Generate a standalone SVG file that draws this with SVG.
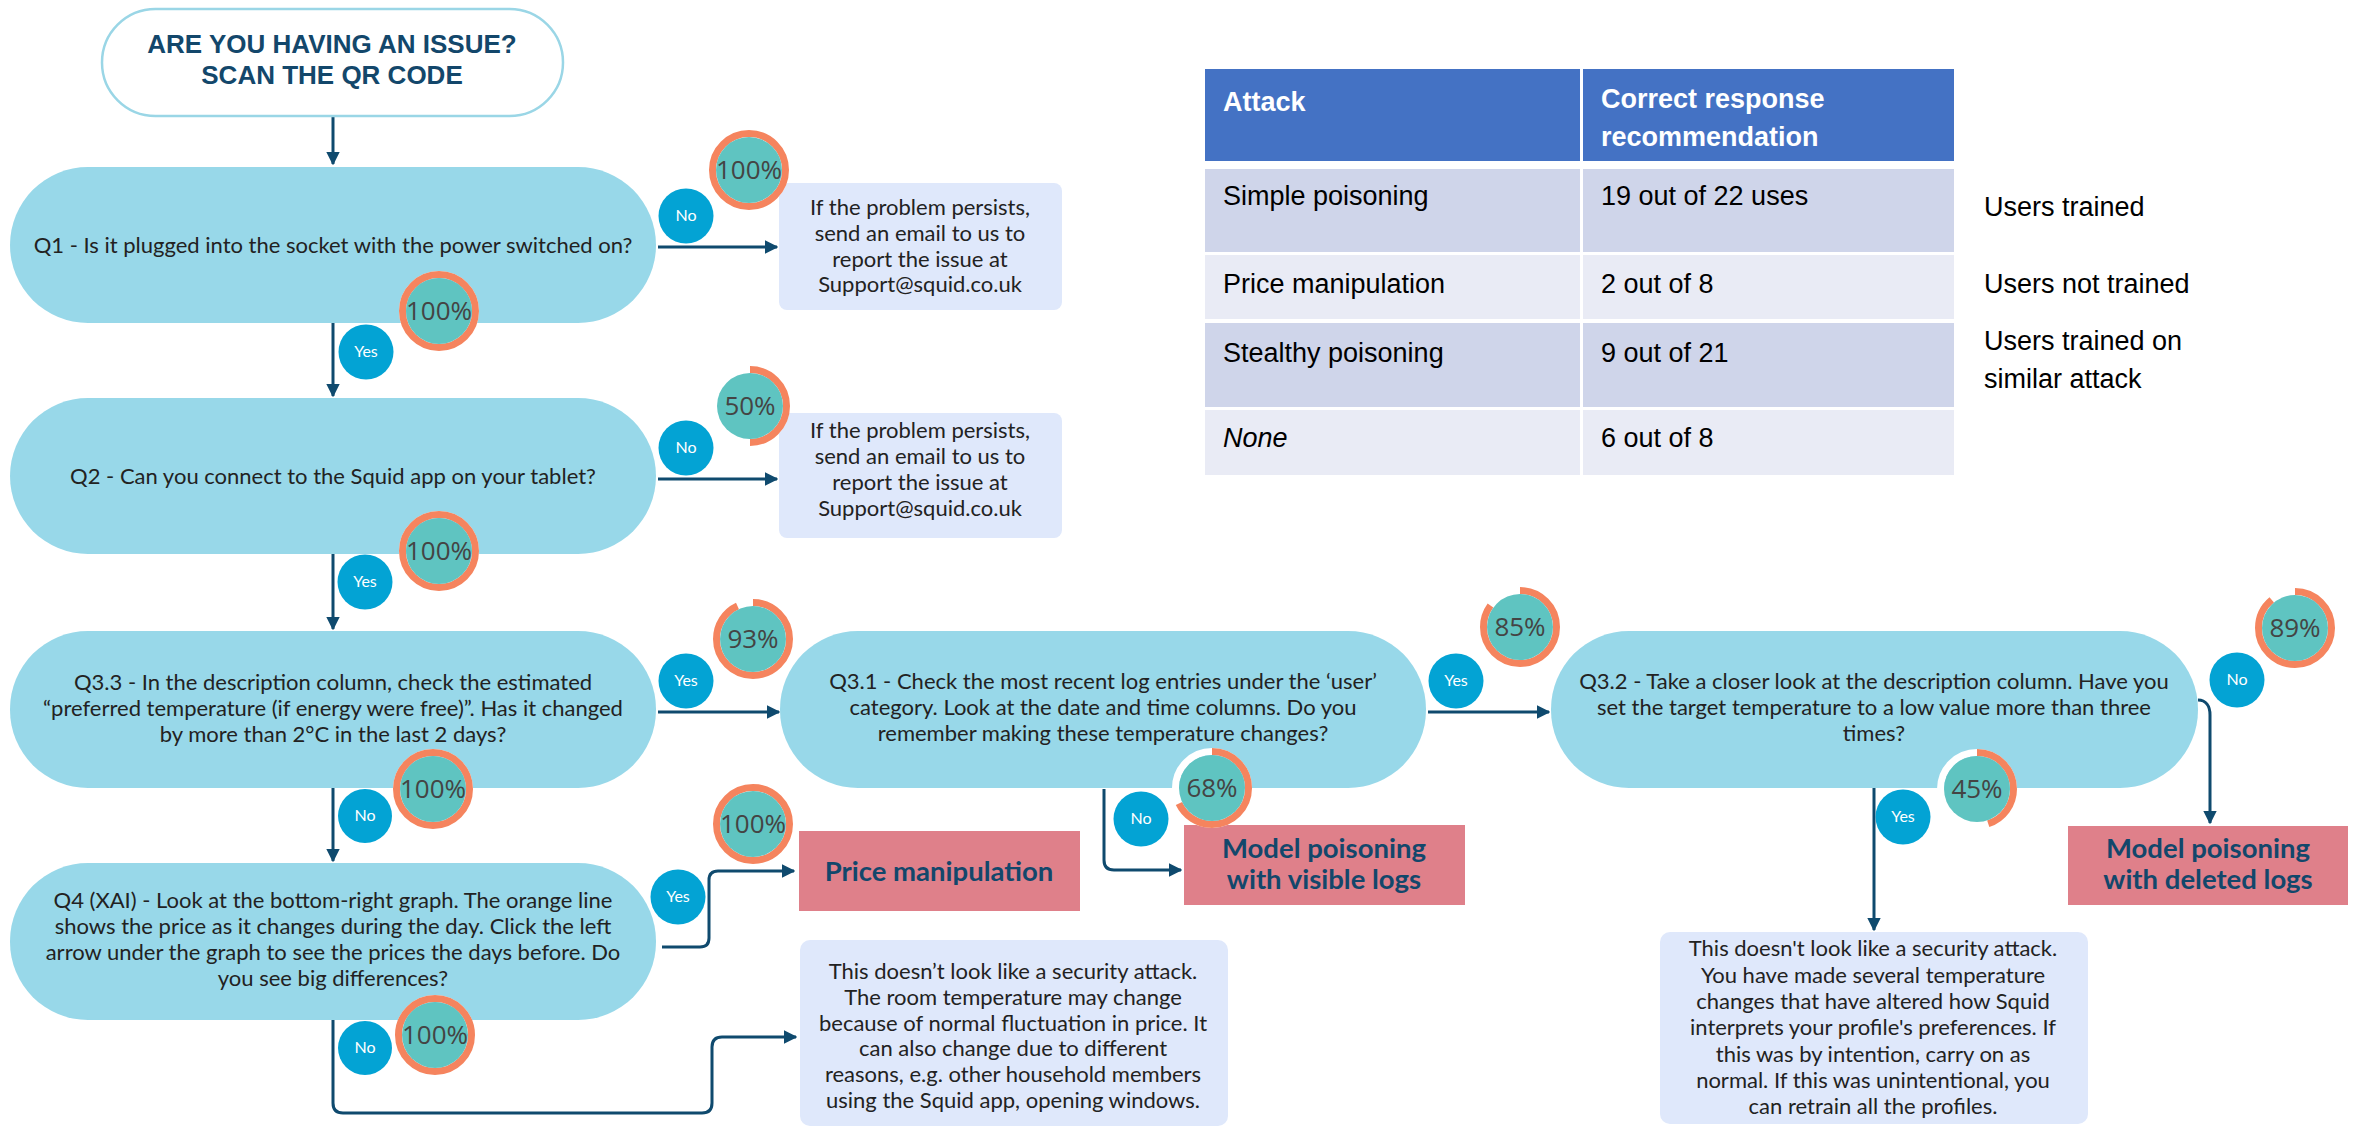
<svg xmlns="http://www.w3.org/2000/svg" width="2356" height="1129" viewBox="0 0 2356 1129">
<defs>
<marker id="ah" viewBox="0 0 10 10" refX="9" refY="5" markerWidth="4.6" markerHeight="4.6" orient="auto" markerUnits="strokeWidth">
<path d="M0,0 L10,5 L0,10 z" fill="#0f4a6e"/>
</marker>
<style>
.pill{fill:#98d8e9}
.qt{font-family:Lato,"Noto Sans",sans-serif;font-size:22px;fill:#222;text-anchor:middle}
.info{fill:#dfe8fb}
.it{font-family:Lato,"Noto Sans",sans-serif;font-size:22px;fill:#222;text-anchor:middle}
.res{fill:#df808a}
.rt{font-family:Lato,"Noto Sans",sans-serif;font-size:27.5px;font-weight:bold;fill:#13476b;text-anchor:middle}
.yn{fill:#03a3d4}
.ynt{font-family:Lato,"Noto Sans",sans-serif;font-size:16px;fill:#fff;text-anchor:middle}
.pbg{fill:none;stroke:#fff;stroke-width:7}
.parc{fill:none;stroke:#f5845e;stroke-width:7}
.pin{fill:#5fc4c1}
.pt{font-family:"Open Sans","Noto Sans",sans-serif;font-size:26px;fill:#444;text-anchor:middle}
.conn{fill:none;stroke:#0f4a6e;stroke-width:3}
.th{font-family:"Liberation Sans",Arial,sans-serif;font-size:27px;font-weight:bold;fill:#fff}
.td{font-family:"Liberation Sans",Arial,sans-serif;font-size:27px;fill:#000}
.st{font-family:"Liberation Sans",Arial,sans-serif;font-size:26px;font-weight:bold;fill:#13476b;text-anchor:middle}
</style>
</defs>
<rect width="2356" height="1129" fill="#fff"/>

<g id="connectors">
<path class="conn" d="M333,116 V164" marker-end="url(#ah)"/>
<path class="conn" d="M333,323 V396" marker-end="url(#ah)"/>
<path class="conn" d="M333,554 V629" marker-end="url(#ah)"/>
<path class="conn" d="M333,788 V861" marker-end="url(#ah)"/>
<path class="conn" d="M658,247 H777" marker-end="url(#ah)"/>
<path class="conn" d="M658,479 H777" marker-end="url(#ah)"/>
<path class="conn" d="M658,712 H779" marker-end="url(#ah)"/>
<path class="conn" d="M1428,712 H1549" marker-end="url(#ah)"/>
<path class="conn" d="M662,947 H700 Q709,947 709,938 V880 Q709,871 718,871 H794" marker-end="url(#ah)"/>
<path class="conn" d="M333,1020 V1103 Q333,1113 343,1113 H702 Q712,1113 712,1103 V1047 Q712,1037 722,1037 H796" marker-end="url(#ah)"/>
<path class="conn" d="M1104,789 V860 Q1104,870 1114,870 H1181" marker-end="url(#ah)"/>
<path class="conn" d="M1874,788 V930" marker-end="url(#ah)"/>
<path class="conn" d="M2198,700 C2206,700 2210,706 2210,715 V823" marker-end="url(#ah)"/>
</g>

<g id="start">
<rect x="102" y="9" width="461" height="107" rx="53.5" fill="#fff" stroke="#9ad6e6" stroke-width="2.5"/>
<text class="st" x="332" y="53">ARE YOU HAVING AN ISSUE?</text>
<text class="st" x="332" y="84">SCAN THE QR CODE</text>
</g>

<g id="q1">
<rect class="pill" x="10" y="167" width="646" height="156" rx="78"/>
<text class="qt" x="333" y="253">Q1 - Is it plugged into the socket with the power switched on?</text>
</g>
<g id="q2">
<rect class="pill" x="10" y="398" width="646" height="156" rx="78"/>
<text class="qt" x="333" y="484">Q2 - Can you connect to the Squid app on your tablet?</text>
</g>
<g id="q33">
<rect class="pill" x="10" y="631" width="646" height="157" rx="78"/>
<text class="qt" x="333" y="690">Q3.3 - In the description column, check the estimated</text>
<text class="qt" x="333" y="716">“preferred temperature (if energy were free)”. Has it changed</text>
<text class="qt" x="333" y="742">by more than 2°C in the last 2 days?</text>
</g>
<g id="q4">
<rect class="pill" x="10" y="863" width="646" height="157" rx="78"/>
<text class="qt" x="333" y="908">Q4 (XAI) - Look at the bottom-right graph. The orange line</text>
<text class="qt" x="333" y="934">shows the price as it changes during the day. Click the left</text>
<text class="qt" x="333" y="960">arrow under the graph to see the prices the days before. Do</text>
<text class="qt" x="333" y="986">you see big differences?</text>
</g>
<g id="q31">
<rect class="pill" x="780" y="631" width="646" height="157" rx="78"/>
<text class="qt" x="1103" y="689">Q3.1 - Check the most recent log entries under the ‘user’</text>
<text class="qt" x="1103" y="715">category. Look at the date and time columns. Do you</text>
<text class="qt" x="1103" y="741">remember making these temperature changes?</text>
</g>
<g id="q32">
<rect class="pill" x="1551" y="631" width="647" height="157" rx="78"/>
<text class="qt" x="1874" y="689">Q3.2 - Take a closer look at the description column. Have you</text>
<text class="qt" x="1874" y="715">set the target temperature to a low value more than three</text>
<text class="qt" x="1874" y="741">times?</text>
</g>

<g id="info1">
<rect class="info" x="779" y="183" width="283" height="127" rx="8"/>
<text class="it" x="920" y="215">If the problem persists,</text>
<text class="it" x="920" y="241">send an email to us to</text>
<text class="it" x="920" y="267">report the issue at</text>
<text class="it" x="920" y="292">Support@squid.co.uk</text>
</g>
<g id="info2">
<rect class="info" x="779" y="413" width="283" height="125" rx="8"/>
<text class="it" x="920" y="438">If the problem persists,</text>
<text class="it" x="920" y="464">send an email to us to</text>
<text class="it" x="920" y="490">report the issue at</text>
<text class="it" x="920" y="516">Support@squid.co.uk</text>
</g>
<g id="info3">
<rect class="info" x="800" y="940" width="428" height="186" rx="10"/>
<text class="it" x="1013" y="979">This doesn’t look like a security attack.</text>
<text class="it" x="1013" y="1005">The room temperature may change</text>
<text class="it" x="1013" y="1031">because of normal fluctuation in price. It</text>
<text class="it" x="1013" y="1056">can also change due to different</text>
<text class="it" x="1013" y="1082">reasons, e.g. other household members</text>
<text class="it" x="1013" y="1108">using the Squid app, opening windows.</text>
</g>
<g id="info4">
<rect class="info" x="1660" y="932" width="428" height="192" rx="10"/>
<text class="it" x="1873" y="956">This doesn't look like a security attack.</text>
<text class="it" x="1873" y="983">You have made several temperature</text>
<text class="it" x="1873" y="1009">changes that have altered how Squid</text>
<text class="it" x="1873" y="1035">interprets your profile's preferences. If</text>
<text class="it" x="1873" y="1062">this was by intention, carry on as</text>
<text class="it" x="1873" y="1088">normal. If this was unintentional, you</text>
<text class="it" x="1873" y="1114">can retrain all the profiles.</text>
</g>

<g id="res-price">
<rect class="res" x="799" y="831" width="281" height="80"/>
<text class="rt" x="939" y="881">Price manipulation</text>
</g>
<g id="res-visible">
<rect class="res" x="1184" y="825" width="281" height="80"/>
<text class="rt" x="1324" y="858">Model poisoning</text>
<text class="rt" x="1324" y="889">with visible logs</text>
</g>
<g id="res-deleted">
<rect class="res" x="2068" y="826" width="280" height="79"/>
<text class="rt" x="2208" y="858">Model poisoning</text>
<text class="rt" x="2208" y="889">with deleted logs</text>
</g>

<g id="yn-badges">
<g id="no-q1"><circle class="yn" cx="686" cy="216" r="27.5"/><text class="ynt" x="686" y="221">No</text></g>
<g id="yes-q1"><circle class="yn" cx="366" cy="352" r="27.5"/><text class="ynt" x="366" y="357">Yes</text></g>
<g id="no-q2"><circle class="yn" cx="686" cy="448" r="27.5"/><text class="ynt" x="686" y="453">No</text></g>
<g id="yes-q2"><circle class="yn" cx="365" cy="582" r="27.5"/><text class="ynt" x="365" y="587">Yes</text></g>
<g id="yes-q33"><circle class="yn" cx="686" cy="681" r="27.5"/><text class="ynt" x="686" y="686">Yes</text></g>
<g id="no-q33"><circle class="yn" cx="365" cy="816" r="27"/><text class="ynt" x="365" y="821">No</text></g>
<g id="yes-q4"><circle class="yn" cx="678" cy="897" r="27.5"/><text class="ynt" x="678" y="902">Yes</text></g>
<g id="no-q4"><circle class="yn" cx="365" cy="1048" r="27"/><text class="ynt" x="365" y="1053">No</text></g>
<g id="yes-q31"><circle class="yn" cx="1456" cy="681" r="27.5"/><text class="ynt" x="1456" y="686">Yes</text></g>
<g id="no-q31"><circle class="yn" cx="1141" cy="819" r="27.5"/><text class="ynt" x="1141" y="824">No</text></g>
<g id="yes-q32"><circle class="yn" cx="1903" cy="817" r="27.5"/><text class="ynt" x="1903" y="822">Yes</text></g>
<g id="no-q32"><circle class="yn" cx="2237" cy="680" r="27.5"/><text class="ynt" x="2237" y="685">No</text></g>
</g>

<g id="pct-badges">
<g id="pct-q1-no"><circle class="pbg" cx="749" cy="170" r="36.5"/><circle class="parc" cx="749" cy="170" r="36.5" pathLength="100" stroke-dasharray="100 100" transform="rotate(-90 749 170)"/><circle class="pin" cx="749" cy="170" r="33"/><text class="pt" x="749" y="179">100%</text></g>
<g id="pct-q1-yes"><circle class="pbg" cx="439" cy="311" r="36.5"/><circle class="parc" cx="439" cy="311" r="36.5" pathLength="100" stroke-dasharray="100 100" transform="rotate(-90 439 311)"/><circle class="pin" cx="439" cy="311" r="33"/><text class="pt" x="439" y="320">100%</text></g>
<g id="pct-q2-no"><circle class="pbg" cx="750" cy="406" r="36.5"/><circle class="parc" cx="750" cy="406" r="36.5" pathLength="100" stroke-dasharray="50 100" transform="rotate(-90 750 406)"/><circle class="pin" cx="750" cy="406" r="33"/><text class="pt" x="750" y="415">50%</text></g>
<g id="pct-q2-yes"><circle class="pbg" cx="439" cy="551" r="36.5"/><circle class="parc" cx="439" cy="551" r="36.5" pathLength="100" stroke-dasharray="100 100" transform="rotate(-90 439 551)"/><circle class="pin" cx="439" cy="551" r="33"/><text class="pt" x="439" y="560">100%</text></g>
<g id="pct-q33-yes"><circle class="pbg" cx="753" cy="639" r="36.5"/><circle class="parc" cx="753" cy="639" r="36.5" pathLength="100" stroke-dasharray="93 100" transform="rotate(-90 753 639)"/><circle class="pin" cx="753" cy="639" r="33"/><text class="pt" x="753" y="648">93%</text></g>
<g id="pct-q33-no"><circle class="pbg" cx="433" cy="789" r="36.5"/><circle class="parc" cx="433" cy="789" r="36.5" pathLength="100" stroke-dasharray="100 100" transform="rotate(-90 433 789)"/><circle class="pin" cx="433" cy="789" r="33"/><text class="pt" x="433" y="798">100%</text></g>
<g id="pct-q4-yes"><circle class="pbg" cx="753" cy="824" r="36.5"/><circle class="parc" cx="753" cy="824" r="36.5" pathLength="100" stroke-dasharray="100 100" transform="rotate(-90 753 824)"/><circle class="pin" cx="753" cy="824" r="33"/><text class="pt" x="753" y="833">100%</text></g>
<g id="pct-q4-no"><circle class="pbg" cx="435" cy="1035" r="36.5"/><circle class="parc" cx="435" cy="1035" r="36.5" pathLength="100" stroke-dasharray="100 100" transform="rotate(-90 435 1035)"/><circle class="pin" cx="435" cy="1035" r="33"/><text class="pt" x="435" y="1044">100%</text></g>
<g id="pct-q31-yes"><circle class="pbg" cx="1520" cy="627" r="36.5"/><circle class="parc" cx="1520" cy="627" r="36.5" pathLength="100" stroke-dasharray="85 100" transform="rotate(-90 1520 627)"/><circle class="pin" cx="1520" cy="627" r="33"/><text class="pt" x="1520" y="636">85%</text></g>
<g id="pct-q31-no"><circle class="pbg" cx="1212" cy="788" r="36.5"/><circle class="parc" cx="1212" cy="788" r="36.5" pathLength="100" stroke-dasharray="68 100" transform="rotate(-90 1212 788)"/><circle class="pin" cx="1212" cy="788" r="33"/><text class="pt" x="1212" y="797">68%</text></g>
<g id="pct-q32-no"><circle class="pbg" cx="2295" cy="628" r="36.5"/><circle class="parc" cx="2295" cy="628" r="36.5" pathLength="100" stroke-dasharray="89 100" transform="rotate(-90 2295 628)"/><circle class="pin" cx="2295" cy="628" r="33"/><text class="pt" x="2295" y="637">89%</text></g>
<g id="pct-q32-yes"><circle class="pbg" cx="1977" cy="789" r="36.5"/><circle class="parc" cx="1977" cy="789" r="36.5" pathLength="100" stroke-dasharray="45 100" transform="rotate(-90 1977 789)"/><circle class="pin" cx="1977" cy="789" r="33"/><text class="pt" x="1977" y="798">45%</text></g>
</g>

<g id="table">
<rect x="1205" y="69" width="375" height="92" fill="#4472c4"/>
<rect x="1583" y="69" width="371" height="92" fill="#4472c4"/>
<rect x="1205" y="169" width="375" height="83" fill="#cfd5ea"/>
<rect x="1583" y="169" width="371" height="83" fill="#cfd5ea"/>
<rect x="1205" y="255" width="375" height="64" fill="#e9ebf5"/>
<rect x="1583" y="255" width="371" height="64" fill="#e9ebf5"/>
<rect x="1205" y="323" width="375" height="84" fill="#cfd5ea"/>
<rect x="1583" y="323" width="371" height="84" fill="#cfd5ea"/>
<rect x="1205" y="410" width="375" height="65" fill="#e9ebf5"/>
<rect x="1583" y="410" width="371" height="65" fill="#e9ebf5"/>
<text class="th" x="1223" y="111">Attack</text>
<text class="th" x="1601" y="108">Correct response</text>
<text class="th" x="1601" y="146">recommendation</text>
<text class="td" x="1223" y="205">Simple poisoning</text>
<text class="td" x="1601" y="205">19 out of 22 uses</text>
<text class="td" x="1223" y="293">Price manipulation</text>
<text class="td" x="1601" y="293">2 out of 8</text>
<text class="td" x="1223" y="362">Stealthy poisoning</text>
<text class="td" x="1601" y="362">9 out of 21</text>
<text class="td" x="1223" y="447" font-style="italic">None</text>
<text class="td" x="1601" y="447">6 out of 8</text>
</g>
<g id="notes">
<text class="td" x="1984" y="216">Users trained</text>
<text class="td" x="1984" y="293">Users not trained</text>
<text class="td" x="1984" y="350">Users trained on</text>
<text class="td" x="1984" y="388">similar attack</text>
</g>
</svg>
